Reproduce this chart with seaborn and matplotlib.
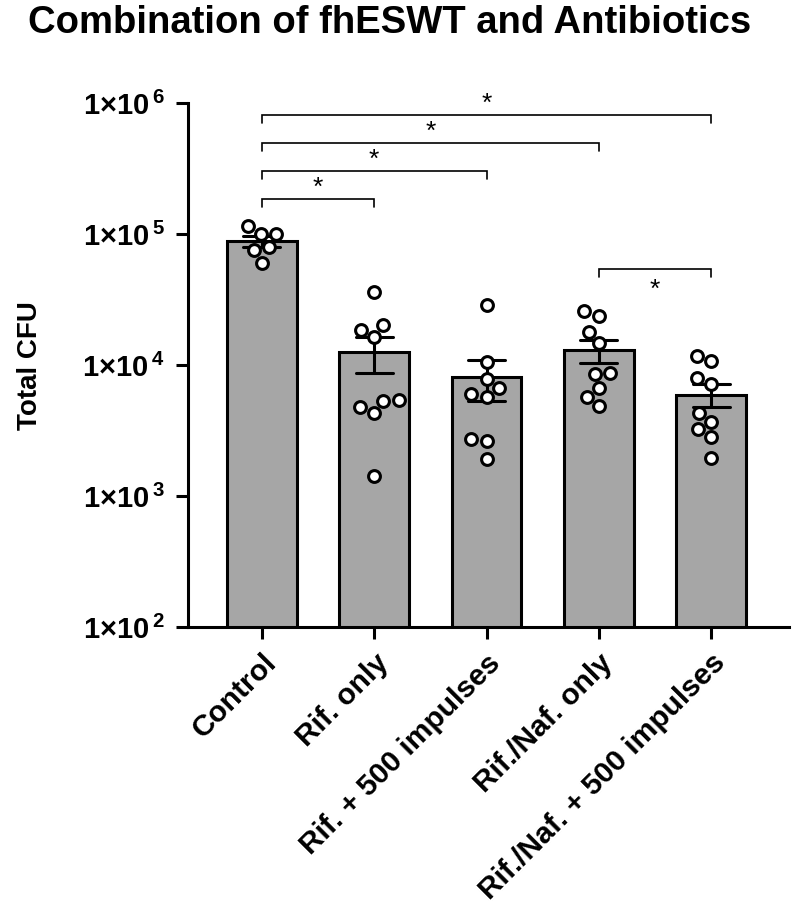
import matplotlib
matplotlib.use('Agg')
import matplotlib.pyplot as plt
import seaborn as sns
import pandas as pd
from matplotlib.ticker import NullLocator

# valores (UFC totales por muestra)
grupos = ['Control', 'Rif. only', 'Rif. + 500 impulses',
          'Rif./Naf. only', 'Rif./Naf. + 500 impulses']
control = [115000, 100000, 101000, 80000, 75500, 60400]
rif = [36300, 18500, 20200, 16300, 5300, 5400, 4800, 4280, 1420]
rif_500 = [29000, 10500, 7800, 6640, 6080, 5730, 2740, 2620, 1910]
rifnaf = [25800, 23700, 18000, 14800, 8650, 8540, 6640, 5730, 4890]
rifnaf_500 = [10700, 11700, 8000, 7160, 4330, 3690, 3230, 2810, 1960]

yticks = [1e2, 1e3, 1e4, 1e5, 1e6]
ytick_labels = ['1×10$^{\\,2}$', '1×10$^{\\,3}$', '1×10$^{\\,4}$',
                '1×10$^{\\,5}$', '1×10$^{\\,6}$']

# comparaciones significativas: (grupo a, grupo b, altura del corchete)
comparaciones = [
    (0, 1, 1.87e5, 'arriba'),
    (0, 2, 3.04e5, 'arriba'),
    (0, 3, 4.98e5, 'arriba'),
    (0, 4, 8.09e5, 'arriba'),
    (3, 4, 5.41e4, 'abajo'),
]

valores = [control, rif, rif_500, rifnaf, rifnaf_500]
df = pd.DataFrame({
    'Grupo': [g for g, v in zip(grupos, valores) for _ in v],
    'CFU': [x for v in valores for x in v],
})

sns.set_style('ticks')
plt.rcParams['font.family'] = ['Liberation Sans', 'DejaVu Sans']
plt.rcParams['mathtext.default'] = 'regular'
plt.rcParams['text.color'] = 'black'
plt.rcParams['axes.labelcolor'] = 'black'
plt.rcParams['xtick.color'] = 'black'
plt.rcParams['ytick.color'] = 'black'

fig = plt.figure(figsize=(7.92, 9.09), dpi=100)
ax = fig.add_axes([0.237, 0.310, 0.759, 0.5765])

# barras con media aritmetica y SEM (se calcula antes de pasar a escala log)
sns.barplot(data=df, x='Grupo', y='CFU', order=grupos, estimator='mean',
            errorbar='se', color='#a6a6a6', saturation=1, width=0.62,
            edgecolor='black', linewidth=2.2, capsize=0.33,
            err_kws={'color': 'black', 'linewidth': 2.2}, ax=ax)

ax.set_yscale('log')

sns.swarmplot(data=df, x='Grupo', y='CFU', order=grupos, color='white',
              edgecolor='black', linewidth=2.2, size=8.5, ax=ax, zorder=3)

ax.set_ylim(1e2, 1e6)
ax.set_xlim(-0.66, 4.69)

# corchetes de significancia
caida = 0.869
for a, b, y, pos in comparaciones:
    ax.plot([a, a, b, b], [y * caida, y, y, y * caida], color='black',
            linewidth=1.2, solid_joinstyle='miter', clip_on=False)
    dy = 8 if pos == 'arriba' else -15
    ax.annotate('*', xy=((a + b) / 2, y), xytext=(0, dy), textcoords='offset points',
                ha='center', va='center', fontsize=19)

ax.set_yticks(yticks)
ax.set_yticklabels(ytick_labels, fontsize=21, fontweight='bold')
ax.yaxis.set_minor_locator(NullLocator())
ax.set_xticks(range(len(grupos)))
ax.set_xticklabels(grupos, rotation=45, ha='right', rotation_mode='anchor',
                   fontsize=21.5, fontweight='bold')
ax.tick_params(axis='both', which='major', length=8.5, width=2.2, color='black',
               direction='out')
ax.tick_params(axis='y', pad=8)
ax.tick_params(axis='x', pad=7)

ax.set_xlabel('')
ax.set_ylabel('Total CFU', fontsize=20, fontweight='bold')
ax.yaxis.set_label_coords(-0.24, 0.5)

sns.despine(ax=ax)
for lado in ['left', 'bottom']:
    ax.spines[lado].set_linewidth(2.2)
    ax.spines[lado].set_color('black')

fig.suptitle('Combination of fhESWT and Antibiotics', x=0.492, y=0.995,
             fontsize=27.5, fontweight='bold', va='top')

fig.savefig('out.png', dpi=100)
plt.close()
